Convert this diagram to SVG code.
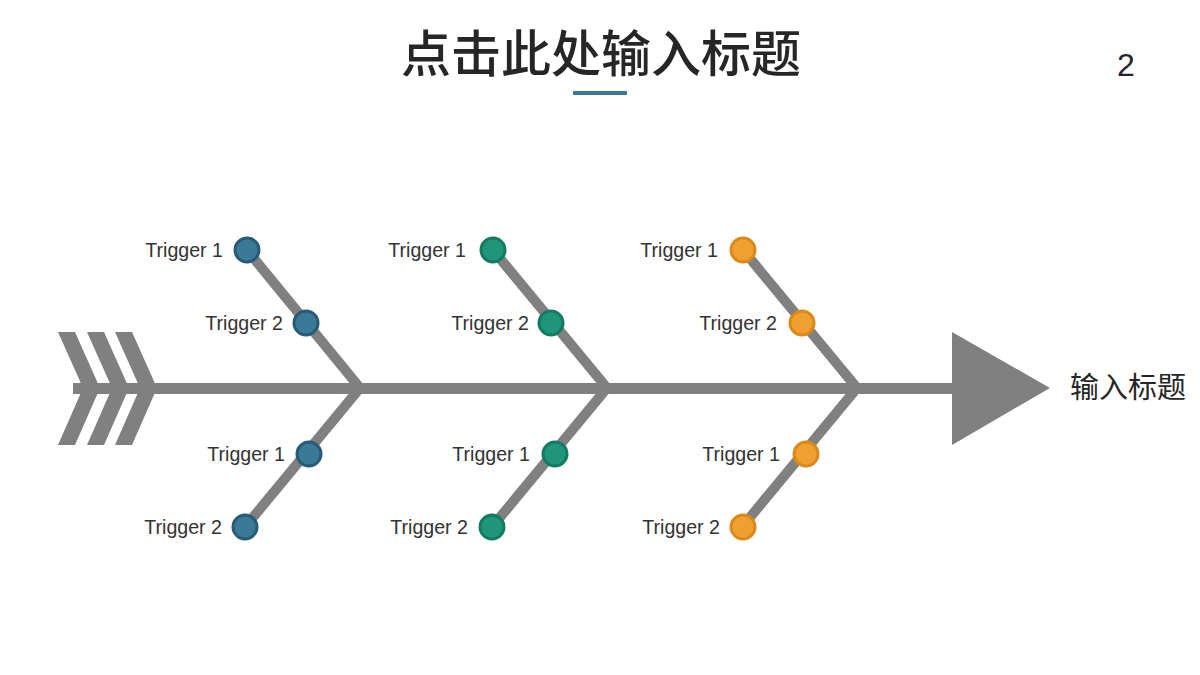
<svg xmlns="http://www.w3.org/2000/svg" width="1200" height="675" viewBox="0 0 1200 675">
<style>
.bone{fill:none;stroke:#808080;stroke-width:10;stroke-linejoin:miter;stroke-miterlimit:10}
.lbl{font-family:"Liberation Sans",Arial,sans-serif;font-size:19.6px;fill:#333333;text-anchor:end}
.b{fill:#3a7a98;stroke:#285b74;stroke-width:3}
.g{fill:#1f957a;stroke:#157a62;stroke-width:3}
.o{fill:#f0a030;stroke:#d98a1a;stroke-width:3}
.cjk{font-family:"Noto Sans CJK SC","Noto Sans",sans-serif;fill:#262626}
</style>
<rect width="1200" height="675" fill="#ffffff"/>
<g id="title">
<text x="601" y="72" class="cjk" font-size="50" font-weight="500" text-anchor="middle">点击此处输入标题</text>
<rect x="573" y="91" width="54" height="4" fill="#3a7b94"/>
</g>
<g id="page-number">
<text x="1126" y="76" font-family="Liberation Sans,Arial,sans-serif" font-size="32" fill="#262626" text-anchor="middle">2</text>
</g>
<g id="spine">
<rect x="73" y="383" width="882" height="11" fill="#808080"/>
<polygon points="952,332 1050,388 952,445" fill="#808080"/>
<polygon points="58,332 75,332 100,388 75,445 58,445 83,388" fill="#808080"/>
<polygon points="87,332 104,332 129,388 104,445 87,445 112,388" fill="#808080"/>
<polygon points="115,332 132,332 157,388 132,445 115,445 140,388" fill="#808080"/>
</g>
<g id="connectors">
<polyline class="bone" points="247,250 360,388 245,527"/>
<polyline class="bone" points="493,250 607,388 492,527"/>
<polyline class="bone" points="743,250 857,388 742,527"/>
</g>
<g id="head-label">
<text x="1070" y="398" class="cjk" font-size="29">输入标题</text>
</g>
<g id="group-1">
<circle class="b" cx="247" cy="250" r="12"/>
<circle class="b" cx="306" cy="323" r="12"/>
<circle class="b" cx="309" cy="454" r="12"/>
<circle class="b" cx="245" cy="527" r="12"/>
<text class="lbl" x="223" y="257">Trigger 1</text>
<text class="lbl" x="283" y="330">Trigger 2</text>
<text class="lbl" x="285" y="461">Trigger 1</text>
<text class="lbl" x="222" y="534">Trigger 2</text>
</g>
<g id="group-2">
<circle class="g" cx="493" cy="250" r="12"/>
<circle class="g" cx="551" cy="323" r="12"/>
<circle class="g" cx="555" cy="454" r="12"/>
<circle class="g" cx="492" cy="527" r="12"/>
<text class="lbl" x="466" y="257">Trigger 1</text>
<text class="lbl" x="529" y="330">Trigger 2</text>
<text class="lbl" x="530" y="461">Trigger 1</text>
<text class="lbl" x="468" y="534">Trigger 2</text>
</g>
<g id="group-3">
<circle class="o" cx="743" cy="250" r="12"/>
<circle class="o" cx="802" cy="323" r="12"/>
<circle class="o" cx="806" cy="454" r="12"/>
<circle class="o" cx="743" cy="527" r="12"/>
<text class="lbl" x="718" y="257">Trigger 1</text>
<text class="lbl" x="777" y="330">Trigger 2</text>
<text class="lbl" x="780" y="461">Trigger 1</text>
<text class="lbl" x="720" y="534">Trigger 2</text>
</g>
</svg>
